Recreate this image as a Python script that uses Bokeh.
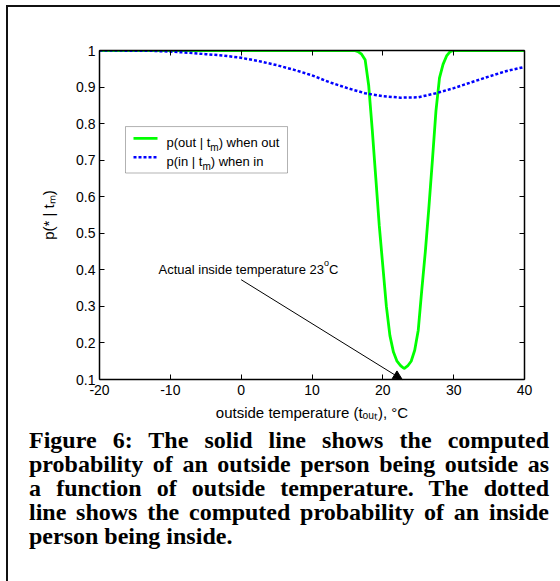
import math
from bokeh.plotting import figure
from bokeh.models import (Range1d, LinearAxis, FixedTicker, Label, Arrow,
                          NormalHead, BoxAnnotation, Div, CustomLabelingPolicy)
from bokeh.layouts import column
from bokeh.embed import file_html
from bokeh.resources import INLINE

# ---------------- data ----------------
t_out_solid = [-20, -15, -10, -5, 0, 5, 10, 15, 16, 16.5, 17, 17.5, 18, 18.5,
               19, 19.5, 20, 20.5, 21, 21.5, 22, 22.5, 23, 23.5, 24, 24.5, 25,
               25.5, 26, 26.5, 27, 27.5, 28, 28.5, 29, 29.5, 30, 35, 40]
p_out_when_out = [1, 1, 1, 1, 1, 1, 1, 1, 1.0, 0.997, 0.99, 0.975, 0.905, 0.785,
                  0.653, 0.52, 0.41, 0.30, 0.22, 0.175, 0.15, 0.138, 0.13, 0.137,
                  0.15, 0.18, 0.235, 0.345, 0.45, 0.57, 0.70, 0.835, 0.925, 0.962,
                  0.985, 0.997, 1.0, 1, 1]

t_out_dotted = [-20, -17.5, -15, -12.5, -10, -7.5, -5, -2.5, 0, 2.5, 5, 7.5, 10,
                12.5, 15, 17.5, 20, 22.5, 25, 27.5, 30, 32.5, 35, 37.5, 40]
p_in_when_in = [1.0, 1.0, 0.999, 0.999, 0.997, 0.994, 0.99, 0.986, 0.98, 0.971,
                0.96, 0.947, 0.932, 0.913, 0.897, 0.883, 0.875, 0.871, 0.872,
                0.883, 0.897, 0.913, 0.929, 0.944, 0.955]

x_ticks = [-20, -10, 0, 10, 20, 30, 40]
x_tick_labels = ["-20", "-10", "0", "10", "20", "30", "40"]
y_ticks = [0.1, 0.2, 0.3, 0.4, 0.5, 0.6, 0.7, 0.8, 0.9, 1.0]
y_tick_labels = ["0.1", "0.2", "0.3", "0.4", "0.5", "0.6", "0.7", "0.8", "0.9", "1"]

x_label = "outside temperature (t\u2092\u1d64\u209c), \u00b0C"
y_label = "p(* | t\u2098)"
legend_runs = [[("p(out | t", "n"), ("m", "sub"), (") when out", "n")],
               [("p(in | t", "n"), ("m", "sub"), (") when in", "n")]]
note_runs = [("Actual inside temperature 23", "n"), ("o", "sup"), ("C", "n")]
note_from = (0.0, 0.373)
note_to = (22.74, 0.1)

caption_lines = ["Figure 6: The solid line shows the computed",
                 "probability of an outside person being outside as",
                 "a function of outside temperature. The dotted",
                 "line shows the computed probability of an inside",
                 "person being inside."]

# ---------------- layout ----------------
XMIN, XMAX, YMIN, YMAX = -20, 40, 0.1, 1.0
FIG_W, FIG_H = 551, 416
ML, MT, FW, FH = 91, 43, 425, 333
PAGE_FX, PAGE_FY = 99, 50   # frame corner on the page
SX = FW / (XMAX - XMIN)
SY = FH / (YMAX - YMIN)
FONT = "Liberation Sans"


def X(px):
    return XMIN + (px - PAGE_FX) / SX


def Y(py):
    return YMAX - (py - PAGE_FY) / SY


ARIAL = {' ': 278, '(': 333, ')': 333, ',': 278, '|': 260, '*': 389, 'a': 556,
         'b': 556, 'c': 500, 'd': 556, 'e': 556, 'h': 556, 'i': 222, 'l': 222,
         'm': 833, 'n': 556, 'o': 556, 'p': 556, 'r': 333, 's': 500, 't': 278,
         'u': 556, 'w': 722, 'A': 667, 'C': 722}


def tw(s, fs):
    return sum(ARIAL.get(c, 556) for c in s) * fs / 1000.0


p = figure(width=FIG_W, height=FIG_H, output_backend="svg", toolbar_location=None,
           x_range=Range1d(XMIN, XMAX), y_range=Range1d(YMIN, YMAX),
           min_border_left=ML, min_border_top=MT,
           min_border_right=FIG_W - ML - FW, min_border_bottom=FIG_H - MT - FH,
           x_axis_location=None, y_axis_location=None)
p.outline_line_color = None
p.grid.visible = False
p.background_fill_color = "white"
p.border_fill_color = "white"

no_labels = CustomLabelingPolicy(code="""
const all = [...indices];
for (const i of all) indices.unset(i);
return indices;
""")


def make_axis(labels_on, ticks, labels):
    ax = LinearAxis(ticker=FixedTicker(ticks=ticks))
    ax.major_tick_in = 5
    ax.major_tick_out = 0
    ax.minor_tick_line_color = None
    ax.axis_line_color = "black"
    ax.axis_line_width = 1.5
    ax.major_tick_line_color = "black"
    ax.major_tick_line_width = 1
    ax.major_label_text_font = FONT
    ax.major_label_text_font_size = "14px"
    ax.major_label_text_color = "black"
    ax.major_label_overrides = {t: l for t, l in zip(ticks, labels)}
    ax.axis_label_text_font = FONT
    ax.axis_label_text_font_size = "15px"
    ax.axis_label_text_font_style = "normal"
    ax.axis_label_text_color = "black"
    if not labels_on:
        ax.major_label_policy = no_labels
    return ax


bx = make_axis(True, x_ticks, x_tick_labels)
bx.major_label_standoff = 5
bx.axis_label = x_label
bx.axis_label_standoff = 6
p.add_layout(bx, "below")
lx = make_axis(True, y_ticks, y_tick_labels)
lx.major_label_standoff = 4
lx.axis_label = y_label
lx.axis_label_standoff = 16
p.add_layout(lx, "left")
p.add_layout(make_axis(False, x_ticks, x_tick_labels), "above")
p.add_layout(make_axis(False, y_ticks, y_tick_labels), "right")

p.line(t_out_solid, p_out_when_out, line_color="#00ff00", line_width=2.8)
p.line(t_out_dotted, p_in_when_in, line_color="#0000ff", line_width=2.5,
       line_dash="3 2")


def runs_h(x_px, base_py, runs, size, sub_size, sub_shift, sup_shift):
    cx = x_px
    for text, kind in runs:
        fs = size if kind == "n" else sub_size
        shift = 0 if kind == "n" else (-sub_shift if kind == "sub" else sup_shift)
        p.add_layout(Label(x=X(cx), y=Y(base_py - shift), text=text,
                           text_font=FONT, text_font_size=f"{fs}px",
                           text_color="black", text_baseline="alphabetic",
                           text_align="left"))
        cx += tw(text, fs)


# legend box (drawn first, texts on top)
p.add_layout(BoxAnnotation(left=X(125), right=X(287), top=Y(127), bottom=Y(174),
                           fill_color="white", fill_alpha=1.0,
                           line_color="black", line_width=1))
p.add_layout(Arrow(x_start=X(133), y_start=Y(139), x_end=X(157), y_end=Y(139),
                   end=None, line_color="#00ff00", line_width=2.8))
p.add_layout(Arrow(x_start=X(133), y_start=Y(158), x_end=X(157), y_end=Y(158),
                   end=None, line_color="#0000ff", line_width=2.5,
                   line_dash="3 2"))
runs_h(166, 143, legend_runs[0], 13, 10, 5, 0)
runs_h(166, 162, legend_runs[1], 13, 10, 5, 0)

# annotation
runs_h(158, 271.5, note_runs, 13, 9, 0, 6)
p.add_layout(Arrow(x_start=note_from[0], y_start=note_from[1],
                   x_end=note_to[0], y_end=note_to[1], line_color="black",
                   line_width=1,
                   end=NormalHead(size=9, fill_color="black", line_color="black")))

lines_html = ""
for i, line in enumerate(caption_lines):
    last = i == len(caption_lines) - 1
    align = "text-align:left;" if last else "text-align:justify;text-align-last:justify;"
    lines_html += f'<div style="{align}">{line}</div>'
caption = Div(text=(
    '<div style="box-sizing:content-box;padding-left:16px;width:520px;'
    'font-family:\'Liberation Serif\',serif;'
    'font-weight:bold;font-size:24px;line-height:24px;color:#000;">'
    + lines_html + '</div>'), width=551, height=155)

layout = column(p, caption, styles={"border-left": "2px solid #111",
                                    "border-top": "2px solid #111",
                                    "margin-left": "6px", "margin-top": "5px",
                                    "background-color": "white"})

open("out.html", "w").write(file_html(layout, INLINE))
